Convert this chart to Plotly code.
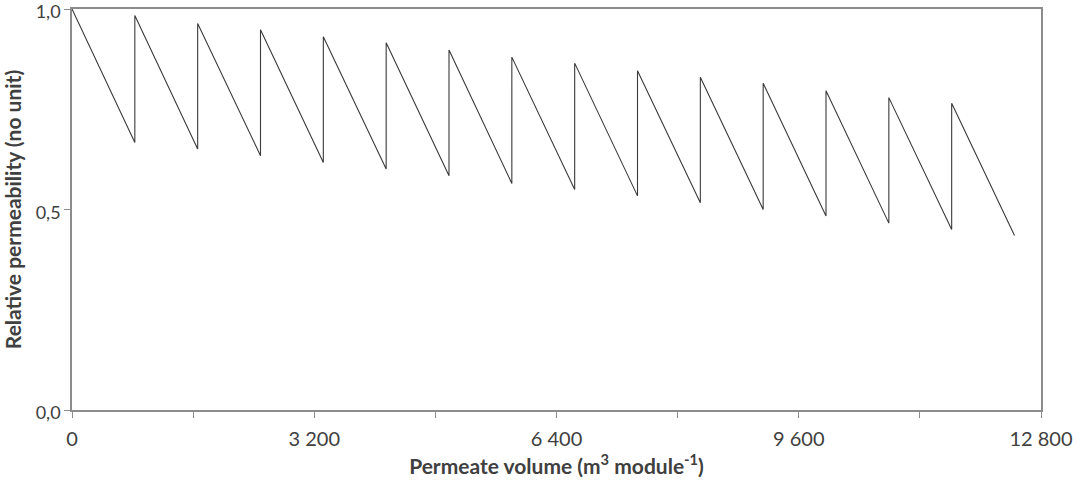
import plotly.graph_objects as go

# Cycle boundaries (m3 module-1)
cycle_start = [0, 830, 1660, 2490, 3320, 4150, 4980, 5810, 6640, 7470,
               8300, 9130, 9960, 10790, 11620]
cycle_end = [830, 1660, 2490, 3320, 4150, 4980, 5810, 6640, 7470, 8300,
             9130, 9960, 10790, 11620, 12450]
# Relative permeability at start (after cleaning) and end of each cycle
peak_values = [1.0, 0.984, 0.964, 0.948, 0.931, 0.916, 0.898, 0.880, 0.865,
               0.846, 0.830, 0.815, 0.796, 0.779, 0.765]
trough_values = [0.667, 0.651, 0.634, 0.617, 0.601, 0.584, 0.565, 0.550,
                 0.534, 0.517, 0.500, 0.484, 0.466, 0.450, 0.435]

x_tick_vals = [0, 1600, 3200, 4800, 6400, 8000, 9600, 11200, 12800]
x_tick_text = ["0", "", "3 200", "", "6 400", "", "9 600", "", "12 800"]
y_tick_vals = [0, 0.5, 1.0]
y_tick_text = ["0,0", "0,5", "1,0"]

xs, ys = [], []
for s, e, p, t in zip(cycle_start, cycle_end, peak_values, trough_values):
    xs += [s, e]
    ys += [p, t]

fig = go.Figure()
fig.add_trace(go.Scatter(x=xs, y=ys, mode="lines",
                         line=dict(color="#3a3a3a", width=1.1),
                         showlegend=False, hoverinfo="skip"))

axis_color = "#8c8c8c"
font_family = "Lato, Open Sans, sans-serif"
fig.update_layout(
    width=1077, height=486,
    margin=dict(l=72, r=36, t=9, b=76),
    paper_bgcolor="white", plot_bgcolor="white",
    font=dict(family=font_family, color="#404040"),
    xaxis=dict(
        range=[0, 12800], tickmode="array", tickvals=x_tick_vals,
        ticktext=x_tick_text, ticks="outside", ticklen=6, tickwidth=1.3,
        tickcolor=axis_color, showline=True, linecolor=axis_color,
        linewidth=1.5, mirror=True, showgrid=False, zeroline=False,
        automargin=False, ticklabeloverflow="allow", ticklabelstandoff=4,
        tickfont=dict(size=20, color="#404040"),
        title=dict(text="<b>Permeate volume (m<sup>3</sup> module<sup>-1</sup>)</b>",
                   font=dict(size=21, color="#404040"), standoff=8),
    ),
    yaxis=dict(
        range=[0, 1.0], tickmode="array", tickvals=y_tick_vals,
        ticktext=y_tick_text, ticks="outside", ticklen=6, tickwidth=1.3,
        tickcolor=axis_color, showline=True, linecolor=axis_color,
        linewidth=1.5, mirror=True, showgrid=False, zeroline=False,
        automargin=False, ticklabeloverflow="allow", ticklabelshift=3,
        tickfont=dict(size=18, color="#404040"),
        title=dict(text="<b>Relative permeability (no unit)</b>",
                   font=dict(size=21, color="#404040"), standoff=15),
    ),
)

fig.write_html("out.html")
